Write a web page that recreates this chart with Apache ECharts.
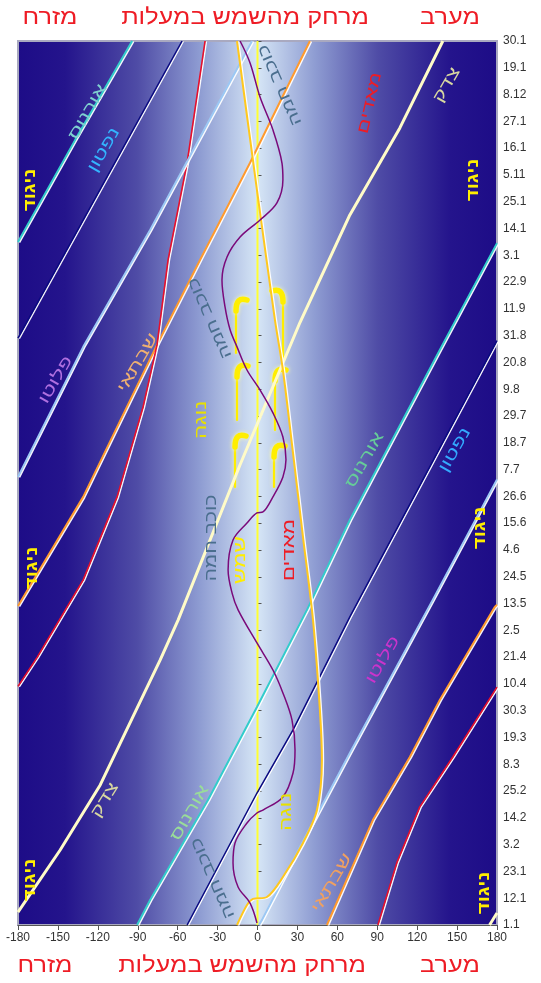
<!DOCTYPE html>
<html><head><meta charset="utf-8">
<script src="https://cdn.jsdelivr.net/npm/echarts@6/dist/echarts.min.js"></script>
<style>html,body{margin:0;padding:0;background:#fff}#c{width:541px;height:983px}</style>
</head><body><div id="c"></div>
<script>
// ---- tick labels (day index step 11, from 1 Jan upward) ----
const dateLabels = ['1.1','12.1','23.1','3.2','14.2','25.2','8.3','19.3','30.3','10.4','21.4','2.5','13.5','24.5','4.6','15.6','26.6','7.7','18.7','29.7','9.8','20.8','31.8','11.9','22.9','3.1','14.1','25.1','5.11','16.1','27.1','8.12','19.1','30.1'];
const dayStep = 11;
const xMin = -180, xMax = 180, xStep = 30;

// ---- series: [elongation in degrees, day of year] ----
const sunLine = [[0,0],[0,363]];
const jupiterA = [[174.4,0],[180,4.9]];
const jupiterB = [[-180,5.3],[-148.3,30.8],[-118.2,57.5],[-73.2,108.8],[-59.6,125.3],[-13.1,189.0],[31.9,247.4],[69.4,291.6],[107.0,327.3],[139.3,363]];
const saturnA = [[52.2,0],[86.7,43.1],[114.5,69],[137,92.4],[178.3,130.6],[180,131.5]];
const saturnB = [[-180,131],[-153.5,155.2],[-131,175.8],[-75.5,238.2],[-43.2,273.1],[-5.6,313],[39.4,363]];
const marsA = [[90.5,0],[104.7,25.5],[122,48.5],[146.8,69],[180,97.7]];
const marsB = [[-180,98],[-165.5,110],[-131,141.7],[-105.5,175.8],[-86,212.7],[-75.5,238.2],[-67.2,273.1],[-52.9,313],[-39.4,363]];
const uranusA = [[-90.5,0],[-80.7,10.3],[-37.2,51.3],[-0.4,89.5],[37.2,129.4],[69.4,166.3],[137,236.1],[180,280]];
const uranusB = [[-180,280.5],[-137,322.4],[-94.2,363]];
const neptuneA = [[-52.9,0],[-0.4,54.2],[26.7,80.1],[69.4,126.5],[180,240]];
const neptuneB = [[-180,241],[-56.7,363]];
const plutoA = [[1.1,0],[3.4,2.1],[31.9,32],[69.4,70.6],[131.7,133.5],[180,183]];
const plutoB = [[-180,184],[-131,237.4],[-80.7,285.4],[-4.1,363]];
const venus = [[-15.4,0],[-7.9,8.2],[-3.4,10.7],[7.1,11.5],[19.1,19.7],[34.2,33.7],[44.7,47.2],[48.4,67.8],[46.9,88.3],[41.7,125.3],[34.2,159.3],[26.7,193.8],[19.1,227.9],[13.1,248.5],[-0.4,301.8],[-15.4,363]];
const mercury = [[-0.4,0.8],[-5.6,9.0],[-14.6,15.6],[-18.4,25.5],[-16.9,33.7],[-7.9,41.9],[-0.4,46.0],[4.1,47.2],[19.1,52.6],[26.7,62.4],[28.2,71.9],[25.9,84.2],[19.1,95.3],[11.6,104.7],[-0.4,115.8],[-14.6,129.4],[-19.1,136.3],[-22.1,145.8],[-18.4,158.1],[-7.9,165.1],[-0.4,169.2],[4.1,169.6],[11.6,175.8],[19.1,184.0],[21.4,191.0],[19.1,200.4],[11.6,210.3],[1.9,219.7],[-7.9,227.9],[-15.4,237.4],[-20.6,244.4],[-24.4,253.8],[-26.7,264.9],[-22.9,274.3],[-13.1,282.5],[1.9,289.5],[14.6,296.5],[19.1,306.0],[18.4,312.9],[11.6,326.5],[1.9,340.0],[-5.6,354.0],[-13.1,363]];

const chart = echarts.init(document.getElementById('c'), null, {renderer:'canvas'});
const FONT = '"Liberation Sans","DejaVu Sans",Arial,sans-serif';

function seg(data, color, width, halo, smooth, z) {
  return {type:'line', data, showSymbol:false, symbol:'none', smooth: smooth||false, silent:true, z: z||3,
    clip:true,
    lineStyle:{color, width, shadowColor: halo ? 'rgba(255,255,255,0.95)' : 'rgba(0,0,0,0)',
      shadowOffsetX: halo ? 1.3 : 0, shadowOffsetY: halo ? 0.5 : 0, shadowBlur: 0}};
}
function txt(x, y, text, color, rotDeg, size, bold, sx) {
  return {type:'text', x, y, rotation: rotDeg*Math.PI/180, scaleX: sx||1, scaleY: 1, z: 100, silent:true,
    style:{text, fill: color, font: (bold?'bold ':'') + size + 'px ' + FONT,
      align:'center', verticalAlign:'middle', textAlign:'center', textVerticalAlign:'middle'}};
}
// decorative yellow hook marks near the sun line
function hook(x, yTop, h, dir) {
  const st = {stroke:'#ffee00', fill:null, lineCap:'round', shadowBlur:4, shadowColor:'rgba(255,255,170,0.9)'};
  return {type:'group', silent:true, z:90, children:[
    {type:'line', shape:{x1:x, y1:yTop+6, x2:x, y2:yTop+h}, style:Object.assign({lineWidth:2.2}, st)},
    {type:'bezierCurve', shape:{x1:x, y1:yTop+14, cpx1:x, cpy1:yTop-1, x2:x+dir*11, y2:yTop+3}, style:Object.assign({lineWidth:5.5}, st)}
  ]};
}

const bg = new echarts.graphic.LinearGradient(0,0,1,0,[
  {offset:0, color:'#1d0c87'},{offset:0.1, color:'#24148c'},{offset:0.25, color:'#4f4ca6'},
  {offset:0.38, color:'#8e9cd2'},{offset:0.5, color:'#d6e6f6'},
  {offset:0.62, color:'#8e9cd2'},{offset:0.75, color:'#4f4ca6'},{offset:0.9, color:'#24148c'},{offset:1, color:'#1d0c87'}]);

const red = '#ee1c25', yel = '#ffee00', merc = '#4a6e8e';
const option = {
  animation:false,
  backgroundColor:'#ffffff',
  grid:{left:18, right:44, top:41, bottom:58, show:true, backgroundColor:bg, borderColor:'#a9a9c0', borderWidth:2},
  xAxis:{type:'value', min:xMin, max:xMax, interval:xStep,
    axisLine:{show:true, onZero:false, lineStyle:{color:'#555', width:1}},
    axisTick:{show:true, length:5, inside:false, lineStyle:{color:'#555'}},
    axisLabel:{color:'#333', fontSize:12, fontFamily:FONT, margin:7},
    splitLine:{show:false}},
  yAxis:{type:'value', position:'right', min:0, max:dayStep*(dateLabels.length-1), interval:dayStep,
    axisLine:{show:true, lineStyle:{color:'#555', width:1}},
    axisTick:{show:true, length:4, lineStyle:{color:'#555'}},
    axisLabel:{color:'#333', fontSize:12, fontFamily:FONT, margin:6,
      formatter:(v)=> dateLabels[Math.round(v/dayStep)] || ''},
    splitLine:{show:false}},
  series:[
    seg(sunLine, '#ffff33', 2, false, false, 2),
    seg(jupiterA, '#fffbc8', 3, false),
    seg(jupiterB, '#fffbc8', 3, false),
    seg(saturnA, '#ff9a2e', 2, true),
    seg(saturnB, '#ff9a2e', 2, true),
    seg(marsA, '#e8102c', 1.6, true),
    seg(marsB, '#e8102c', 1.6, true),
    seg(uranusA, '#33cccc', 2, true),
    seg(uranusB, '#33cccc', 2, true),
    seg(neptuneA, '#0a0a80', 1.5, true),
    seg(neptuneB, '#0a0a80', 1.5, true),
    seg(plutoA, '#9cc8f4', 2, true),
    seg(plutoB, '#9cc8f4', 2, true),
    seg(venus, '#ffc81e', 2, true, 0.3),
    seg(mercury, '#7a0a7a', 1.5, false, 0.35, 4)
  ],
  graphic:[
    hook(236,297,56,1), hook(237,363,57,1), hook(235,433,54,1),
    hook(283,288,72,-1), hook(275,367,63,1), hook(274,443,44,1),
    txt(50,18,'מזרח',red,0,22,false,1.15),
    txt(245,18,'מרחק מהשמש במעלות',red,0,22,false,1.15),
    txt(450,18,'מערב',red,0,22,false,1.15),
    txt(45,966,'מזרח',red,0,22,false,1.15),
    txt(242,966,'מרחק מהשמש במעלות',red,0,22,false,1.15),
    txt(450,966,'מערב',red,0,22,false,1.15),
    // opposition labels
    txt(30,190,'ניגוד',yel,90,17,true,1.2),
    txt(32,568,'ניגוד',yel,90,17,true,1.2),
    txt(30,880,'ניגוד',yel,90,17,true,1.2),
    txt(473,180,'ניגוד',yel,90,17,true,1.2),
    txt(480,528,'ניגוד',yel,90,17,true,1.2),
    txt(484,893,'ניגוד',yel,90,17,true,1.2),
    // planet labels
    txt(88,112,'אורנוס','#7fd0d0',60,16,false,1.4),
    txt(104,150,'נפטון','#33b5ff',60,16,false,1.4),
    txt(56,380,'פלוטו','#b070e0',60,16,false,1.4),
    txt(138,363,'שבתאי','#f0b070',60,16,false,1.4),
    txt(370,103,'מאדים',red,77,16,false,1.4),
    txt(447,85,'צדק','#d8d8a0',60,16,false,1.4),
    txt(280,85,'כוכב חמה',merc,114,16,false,1.3),
    txt(210,318,'כוכב חמה',merc,114,16,false,1.3),
    txt(202,420,'נוגה','#e8e000',90,16,false,1.4),
    txt(212,538,'כוכב חמה',merc,90,16,false,1.3),
    txt(241,560,'שמש',yel,90,16,false,1.4),
    txt(290,550,'מאדים',red,90,16,false,1.4),
    txt(365,460,'אורנוס','#66cc99',60,16,false,1.4),
    txt(455,450,'נפטון','#33aaff',60,16,false,1.4),
    txt(383,660,'פלוטו','#cc33cc',60,16,false,1.4),
    txt(105,800,'צדק','#d8d8a0',58,16,false,1.4),
    txt(190,813,'אורנוס','#99dd99',60,16,false,1.4),
    txt(213,878,'כוכב חמה',merc,114,16,false,1.3),
    txt(287,812,'נוגה','#e8e000',90,16,false,1.4),
    txt(332,883,'שבתאי','#f0a060',60,16,false,1.4)
  ]
};
chart.setOption(option);
</script></body></html>
